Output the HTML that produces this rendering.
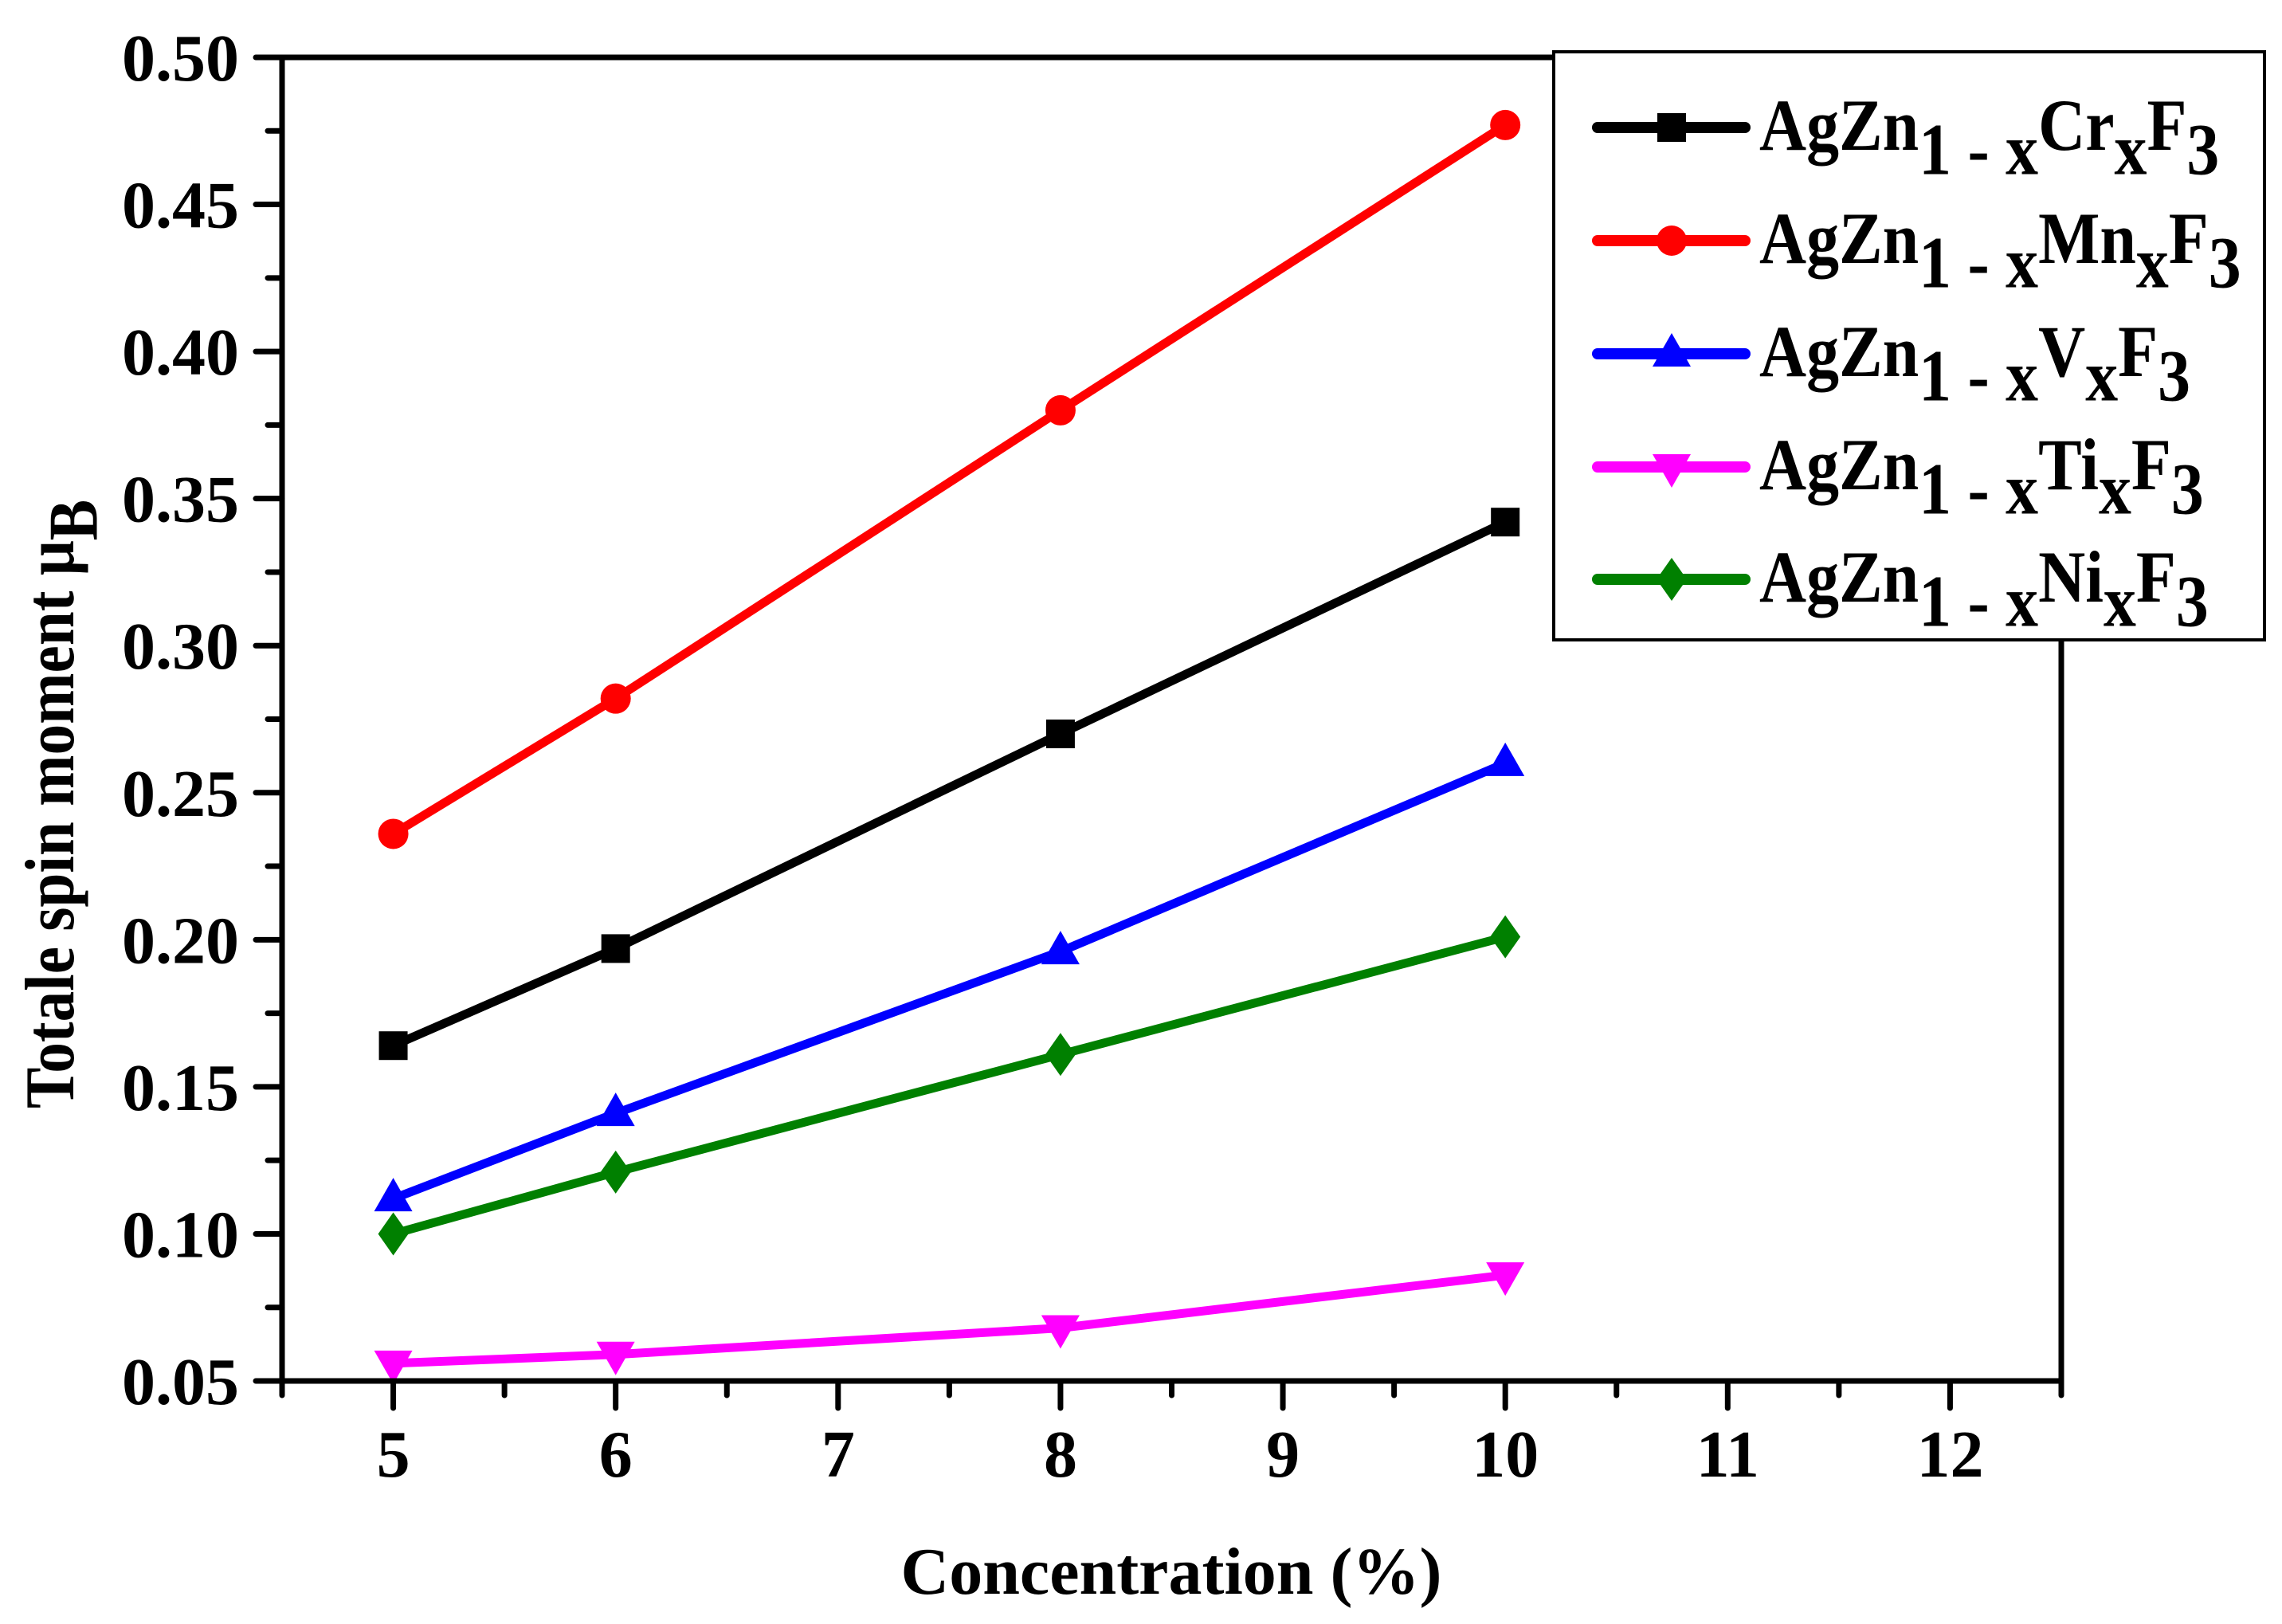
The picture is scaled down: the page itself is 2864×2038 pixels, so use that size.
<!DOCTYPE html>
<html><head><meta charset="utf-8"><style>
html,body{margin:0;padding:0;background:#fff;}
svg{display:block;font-family:"Liberation Serif",serif;font-weight:bold;}
</style></head><body>
<svg id="chart" width="2864" height="2038" viewBox="0 0 2864 2038" xmlns="http://www.w3.org/2000/svg">
<rect x="0" y="0" width="2864" height="2038" fill="#fff"/>
<g id="marks"></g>
<g id="axes"></g>
<text x="1470" y="2000" font-size="84" text-anchor="middle">Concentration (%)</text>
<text transform="translate(92,1009) rotate(-90) scale(0.92,1.05)" font-size="84" text-anchor="middle">Totale spin moment μ<tspan font-size="84" dy="28">B</tspan></text>
<g id="legend">
<rect x="1950" y="65" width="892" height="738" fill="#fff" stroke="#000" stroke-width="4"/>
</g>
</svg>
<script>
const xCategories = [5, 6, 8, 10];
const seriesNames = ["Cr", "Mn", "V", "Ti", "Ni"];
const crValues = [0.164, 0.197, 0.270, 0.342];
const mnValues = [0.236, 0.282, 0.380, 0.477];
const vValues = [0.112, 0.141, 0.196, 0.260];
const tiValues = [0.056, 0.059, 0.068, 0.086];
const niValues = [0.100, 0.121, 0.161, 0.201];
const xTickLabels = ["5", "6", "7", "8", "9", "10", "11", "12"];
const yTickLabels = ["0.05", "0.10", "0.15", "0.20", "0.25", "0.30", "0.35", "0.40", "0.45", "0.50"];

const NS = "http://www.w3.org/2000/svg";
const L = 354, R = 2587, T = 72, B = 1733;
const xMin = 4.5, xMax = 12.5, yMin = 0.05, yMax = 0.50;
function sx(v){ return L + (v - xMin) / (xMax - xMin) * (R - L); }
function sy(v){ return B - (v - yMin) / (yMax - yMin) * (B - T); }
function mk(tag, attrs, parent){ const e = document.createElementNS(NS, tag); for (const k in attrs) e.setAttribute(k, attrs[k]); parent.appendChild(e); return e; }

const series = [
  {vals: crValues, color: "#000000", shape: "square", key: "cr"},
  {vals: mnValues, color: "#ff0000", shape: "circle", key: "mn"},
  {vals: vValues, color: "#0000ff", shape: "up", key: "v"},
  {vals: tiValues, color: "#ff00ff", shape: "down", key: "ti"},
  {vals: niValues, color: "#008000", shape: "diamond", key: "ni"}
];
function marker(shape, cx, cy, color, parent){
  let e;
  if (shape === "square") e = mk("rect", {x: cx-18, y: cy-18, width: 36, height: 36, fill: color}, parent);
  else if (shape === "circle") e = mk("circle", {cx: cx, cy: cy, r: 19, fill: color}, parent);
  else if (shape === "up") e = mk("polygon", {points: `${cx},${cy-26} ${cx-24},${cy+16} ${cx+24},${cy+16}`, fill: color}, parent);
  else if (shape === "down") e = mk("polygon", {points: `${cx},${cy+26} ${cx-24},${cy-16} ${cx+24},${cy-16}`, fill: color}, parent);
  else e = mk("polygon", {points: `${cx},${cy-27} ${cx+19},${cy} ${cx},${cy+27} ${cx-19},${cy}`, fill: color}, parent);
  return e;
}
const marks = document.getElementById("marks");
series.forEach(s => {
  const g = mk("g", {}, marks);
  
  
  const pts = s.vals.map((v, i) => sx(xCategories[i]) + "," + sy(v)).join(" ");
  const pl = mk("polyline", {points: pts, fill: "none", stroke: s.color, "stroke-width": 11, "stroke-linejoin": "round"}, g);
  
  
  s.vals.forEach((v, i) => {
    const m = marker(s.shape, sx(xCategories[i]), sy(v), s.color, g);
    
    
  });
});

const axes = document.getElementById("axes");
const frame = mk("rect", {x: L, y: T, width: R - L, height: B - T, fill: "none", stroke: "#000", "stroke-width": 7}, axes);


for (let v = 4.5; v <= 12.51; v += 0.5) {
  const major = Math.abs(v - Math.round(v)) < 1e-6;
  const t = mk("line", {x1: sx(v), x2: sx(v), y1: B, y2: B + (major ? 34 : 18), stroke: "#000", "stroke-width": 7, "stroke-linecap": "round"}, axes);
  
  
}
xTickLabels.forEach(lab => {
  const t = mk("text", {x: sx(+lab), y: 1853, "font-size": 84, "text-anchor": "middle"}, axes);
  t.textContent = lab;
  
  
});
for (let k = 0; k <= 18; k++) {
  const v = 0.05 + k * 0.025;
  const major = k % 2 === 0;
  const t = mk("line", {x1: L, x2: L - (major ? 33 : 18), y1: sy(v), y2: sy(v), stroke: "#000", "stroke-width": 7, "stroke-linecap": "round"}, axes);
  
  
}
yTickLabels.forEach(lab => {
  const t = mk("text", {x: 300, y: sy(+lab) + 29, "font-size": 84, "text-anchor": "end"}, axes);
  t.textContent = lab;
  
  
});

const legend = document.getElementById("legend");
const rowsY = [160, 302, 444, 586, 727];
series.forEach((s, i) => {
  const y = rowsY[i];
  const g = mk("g", {}, legend);
  
  
  mk("line", {x1: 2005, x2: 2190, y1: y, y2: y, stroke: s.color, "stroke-width": 14, "stroke-linecap": "round"}, g);
  marker(s.shape, 2098, y, s.color, g);
  const t = mk("text", {x: 0, y: 0, "font-size": 88, transform: `translate(2208,${y + 28}) scale(0.93,1.05)`}, g);
  t.innerHTML = `AgZn<tspan dy="29">1 - x</tspan><tspan dy="-29">${seriesNames[i]}</tspan><tspan dy="29">x</tspan><tspan dy="-29">F</tspan><tspan dy="29">3</tspan>`;
  
  
});
</script>
</body></html>
